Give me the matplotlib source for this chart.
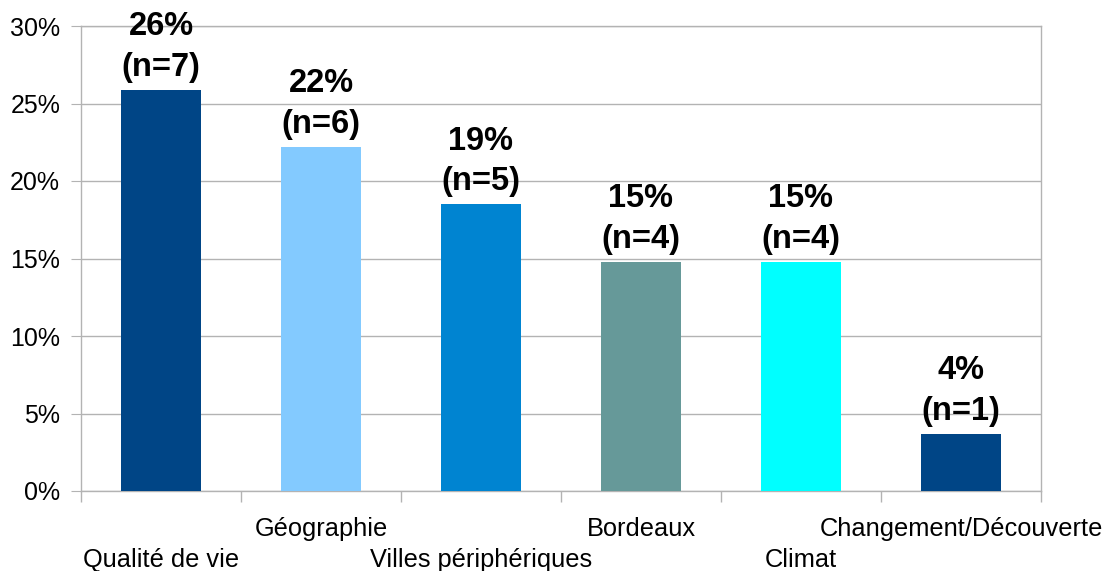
import matplotlib
matplotlib.use("Agg")
import matplotlib.pyplot as plt
from matplotlib.ticker import FixedLocator, PercentFormatter

plt.rcParams['font.family'] = ['Liberation Sans', 'DejaVu Sans']

categories = ["Qualité de vie", "Géographie", "Villes périphériques",
              "Bordeaux", "Climat", "Changement/Découverte"]
percent = [25.9, 22.2, 18.5, 14.8, 14.8, 3.7]
percent_labels = ["26%", "22%", "19%", "15%", "15%", "4%"]
counts = [7, 6, 5, 4, 4, 1]
colors = ["#004586", "#83CAFF", "#0084D1", "#669999", "#00FFFF", "#004586"]

grid_c = "#b3b3b3"

fig = plt.figure(figsize=(11.06, 5.71), dpi=100)
ax = fig.add_axes([81/1106, 1-491/571, 960/1106, 465/571])

x = list(range(len(categories)))
ax.bar(x, percent, width=0.5, color=colors, zorder=3)

ax.set_xlim(-0.5, len(categories) - 0.5)
ax.set_ylim(0, 30)
ax.set_yticks(range(0, 31, 5))
ax.yaxis.set_major_formatter(PercentFormatter(decimals=0))
ax.grid(axis='y', color=grid_c, linewidth=1, zorder=0)
ax.tick_params(axis='y', length=7, color=grid_c, labelsize=18, pad=8)

for s in ax.spines.values():
    s.set_color(grid_c)
    s.set_linewidth(1)

ax.set_xticks(x)
ax.set_xticklabels([])
ax.tick_params(axis='x', which='major', length=0)
ax.xaxis.set_minor_locator(FixedLocator([i - 0.5 for i in range(len(categories) + 1)]))
ax.tick_params(axis='x', which='minor', length=8, color=grid_c, width=1)

for i, cat in enumerate(categories):
    off = -19 if i % 2 == 1 else -41
    ax.annotate(cat, xy=(i, 0), xycoords=('data', 'axes fraction'),
                xytext=(0, off), textcoords='offset points',
                ha='center', va='top', fontsize=18.3)

for i, (p, lab, n) in enumerate(zip(percent, percent_labels, counts)):
    ax.annotate(f"{lab}\n(n={n})", xy=(i, p), xytext=(0, 5),
                textcoords='offset points', ha='center', va='bottom',
                fontsize=23.5, fontweight='bold', linespacing=1.4)

fig.savefig("out.png", dpi=100)
